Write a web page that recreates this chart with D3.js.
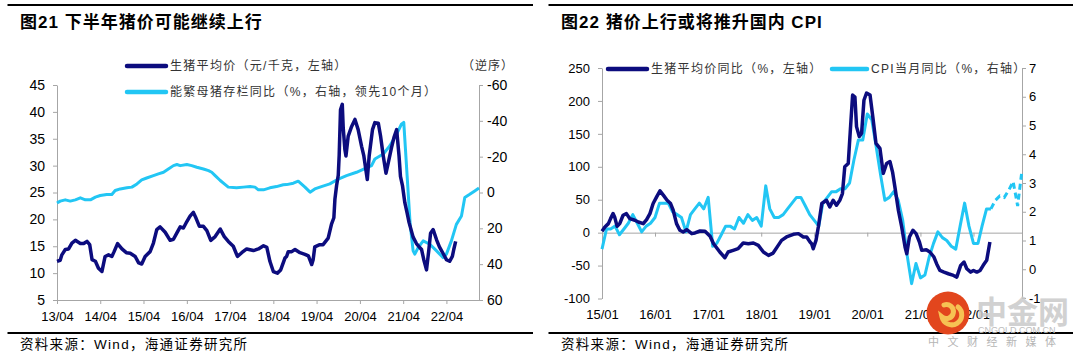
<!DOCTYPE html>
<html><head><meta charset="utf-8">
<script src="https://cdn.jsdelivr.net/npm/d3@7"></script>
<style>
body{margin:0;background:#fff;}
svg text{font-family:"Liberation Sans",Arial,"Noto Sans CJK SC",sans-serif;}
</style></head><body>
<svg id="c" width="1080" height="360"></svg>
<script>
// ---------- DATA ----------
// Left chart: hog average price (yuan/kg, left axis)
const hogPriceDates = ["2013-04-01","2013-04-28","2013-05-12","2013-06-10","2013-07-08","2013-08-05","2013-09-03","2013-10-15","2013-11-12","2013-12-10","2014-01-02","2014-01-22","2014-02-19","2014-03-17","2014-04-15","2014-05-12","2014-06-10","2014-07-08","2014-07-27","2014-08-25","2014-10-01","2014-11-07","2014-12-10","2015-01-21","2015-02-19","2015-03-17","2015-04-15","2015-05-27","2015-06-24","2015-07-22","2015-08-19","2015-10-01","2015-11-12","2015-12-10","2016-01-08","2016-02-05","2016-03-03","2016-04-01","2016-04-28","2016-05-26","2016-06-18","2016-07-16","2016-08-19","2016-09-17","2016-10-20","2016-11-26","2017-01-08","2017-02-11","2017-03-17","2017-04-28","2017-06-02","2017-07-08","2017-08-19","2017-10-15","2017-11-26","2018-01-08","2018-02-05","2018-03-03","2018-04-01","2018-05-05","2018-06-02","2018-07-08","2018-07-22","2018-08-05","2018-09-03","2018-10-01","2018-11-12","2018-12-24","2019-01-22","2019-02-19","2019-03-03","2019-03-17","2019-04-28","2019-05-26","2019-07-08","2019-08-05","2019-08-25","2019-09-03","2019-09-17","2019-10-01","2019-10-09","2019-10-20","2019-11-04","2019-11-12","2019-11-26","2019-12-05","2019-12-24","2020-01-22","2020-02-19","2020-03-17","2020-04-15","2020-05-04","2020-06-02","2020-06-18","2020-07-16","2020-08-05","2020-09-03","2020-09-22","2020-10-15","2020-11-07","2020-11-26","2020-12-24","2021-01-13","2021-02-05","2021-02-25","2021-03-09","2021-03-26","2021-04-15","2021-05-04","2021-05-21","2021-06-24","2021-07-22","2021-08-14","2021-09-03","2021-09-22","2021-10-15","2021-11-04","2021-11-18","2021-12-10","2022-01-08","2022-02-01","2022-03-03","2022-04-01","2022-04-28","2022-05-21","2022-06-02","2022-06-18"];
const hogPriceValues = [12.2,12.4,13.4,14.4,14.5,15.6,16.1,15.5,15.5,15.9,15.3,12.5,12.2,10.9,10.3,13.1,13.4,13.1,14.0,15.5,14.5,13.8,13.7,13.1,11.9,11.7,13.1,14.0,15.6,18.1,18.6,17.6,16.1,16.3,17.5,18.6,18.4,19.6,20.6,21.3,20.2,18.7,18.7,17.9,16.1,16.8,18.2,16.8,15.9,15.0,13.1,13.8,14.5,14.2,14.5,15.1,14.8,12.2,10.3,10.0,10.6,12.8,13.1,14.0,14.0,14.4,13.8,13.5,13.2,11.6,12.5,14.9,15.3,15.3,16.5,19.1,20.3,23.8,26.3,28.2,32.0,40.4,41.4,37.0,33.0,31.8,35.5,37.3,38.6,36.7,33.6,31.8,27.4,31.8,36.7,38.0,37.9,35.5,31.8,28.6,30.5,33.4,35.2,36.7,31.8,28.0,26.3,23.1,21.2,19.4,16.7,15.5,14.9,14.4,12.5,10.6,14.4,17.4,18.1,16.2,14.9,13.7,12.5,12.2,13.1,14.4,15.9];

// Left chart: breeding sow inventory YoY (%, right axis reversed, leading 10 months)
const sowDates = ["2013-04-01","2013-04-28","2013-06-10","2013-07-22","2013-09-03","2013-10-15","2013-11-26","2014-01-08","2014-02-19","2014-04-01","2014-05-26","2014-07-08","2014-08-05","2014-09-17","2014-11-12","2014-12-24","2015-02-05","2015-03-17","2015-04-28","2015-06-24","2015-08-05","2015-09-17","2015-10-28","2015-12-10","2016-01-08","2016-02-05","2016-04-01","2016-05-12","2016-06-24","2016-08-19","2016-10-01","2016-10-28","2016-11-26","2017-01-08","2017-02-19","2017-03-17","2017-05-26","2017-07-22","2017-09-17","2017-10-28","2017-11-26","2018-01-08","2018-03-03","2018-04-28","2018-06-24","2018-07-22","2018-09-17","2018-10-28","2018-12-24","2019-02-05","2019-03-17","2019-05-12","2019-07-22","2019-09-17","2019-12-10","2020-03-03","2020-05-26","2020-07-08","2020-08-05","2020-10-15","2020-12-10","2021-02-05","2021-03-17","2021-04-06","2021-05-30","2021-06-24","2021-07-08","2021-08-06","2021-09-17","2021-11-12","2022-01-08","2022-03-03","2022-04-01","2022-05-13","2022-06-24","2022-08-06","2022-09-03","2022-10-15","2022-11-26","2023-01-01"];
const sowValues = [5.9,4.8,4.1,4.8,4.1,3.0,4.1,4.1,2.6,1.7,1.1,1.1,-1.1,-2.0,-2.6,-3.0,-4.8,-7.0,-8.1,-9.4,-10.4,-11.3,-13.1,-15.0,-15.6,-15.0,-15.6,-15.0,-14.1,-13.1,-12.2,-11.3,-9.4,-6.7,-4.4,-3.0,-2.6,-3.0,-3.3,-3.0,-1.5,-1.5,-2.6,-3.3,-4.3,-4.4,-5.2,-6.3,-3.0,-0.2,-2.0,-3.3,-4.8,-7.0,-9.4,-11.3,-13.7,-15.0,-18.7,-21.5,-26.1,-32.6,-38.1,-39.1,17.8,32.6,34.4,30.7,27.0,28.9,32.6,36.3,34.4,27.0,17.8,13.1,2.8,1.0,-0.9,-2.5];

// Right chart: hog price YoY (%, left axis)
const hogYoyDates = ["2015-01-01","2015-01-21","2015-02-14","2015-03-01","2015-03-18","2015-03-29","2015-04-15","2015-05-03","2015-05-26","2015-06-18","2015-07-11","2015-08-15","2015-09-08","2015-10-12","2015-11-04","2015-11-27","2015-12-19","2016-01-12","2016-02-04","2016-02-27","2016-03-24","2016-04-17","2016-05-05","2016-05-28","2016-06-20","2016-07-13","2016-08-06","2016-09-10","2016-10-02","2016-11-06","2016-12-10","2017-01-14","2017-02-07","2017-03-22","2017-04-26","2017-05-18","2017-06-22","2017-07-26","2017-08-30","2017-10-04","2017-11-08","2017-12-12","2018-01-16","2018-02-20","2018-03-24","2018-04-28","2018-05-21","2018-06-24","2018-08-10","2018-09-14","2018-10-18","2018-11-10","2018-12-03","2018-12-14","2018-12-25","2019-01-13","2019-01-29","2019-02-22","2019-03-26","2019-04-18","2019-05-11","2019-06-03","2019-06-26","2019-07-14","2019-07-30","2019-08-23","2019-09-08","2019-09-22","2019-10-08","2019-10-19","2019-11-07","2019-11-23","2019-12-09","2019-12-27","2020-01-20","2020-02-08","2020-03-01","2020-03-28","2020-04-20","2020-05-13","2020-06-05","2020-06-23","2020-07-09","2020-08-02","2020-08-25","2020-09-17","2020-09-29","2020-10-17","2020-11-10","2020-12-02","2020-12-25","2021-01-10","2021-02-10","2021-03-07","2021-04-04","2021-04-22","2021-05-15","2021-06-12","2021-07-12","2021-08-16","2021-09-08","2021-10-05","2021-10-28","2021-11-16","2021-12-13","2022-01-01","2022-01-24","2022-02-16","2022-03-09","2022-04-02","2022-04-24"];
const hogYoyValues = [2,8.6,13.7,21.3,28.9,23.9,9.6,13.7,26.4,28.9,21.3,18.8,16.2,13.7,19.8,28.9,44.2,54.3,63.5,56.9,49.2,44.2,34.0,13.7,3.6,1.0,4.6,-1.5,-0.5,2.5,2.0,-5.6,-16.8,-29.4,-38.1,-29.4,-26.9,-24.4,-15.7,-16.8,-15.7,-19.3,-29.4,-34.5,-31.0,-19.3,-11.7,-6.6,-2.5,-1.5,-6.6,-6.6,-14.2,-16.8,-24.4,-11.7,8.6,44.2,49.2,39.1,49.2,41.6,49.2,59.4,100,105,161,209,206,161,146,151,201,212,209,176,135.5,128,90,105,108,92,69.5,34,8.6,-21.8,-32,-6.6,3.6,-1.5,-14.2,-26.9,-25.9,-29.4,-37,-47.2,-57.4,-59.9,-62.4,-65,-67.5,-49.7,-44.7,-54.8,-59.9,-57.4,-59.9,-57.4,-49.7,-42.1,-14.2];

// Right chart: CPI YoY (%, right axis), monthly from 2015-01; forecast (dashed) from 2022-05
const cpiStart = "2015-01-01";
const cpiValues = [0.7,1.4,1.4,1.5,1.2,1.4,1.6,1.9,1.6,1.3,1.5,1.6,
  1.8,2.3,2.3,2.3,2.0,1.9,1.8,1.3,1.9,2.1,2.3,2.1,
  2.5,0.8,0.9,1.2,1.5,1.5,1.4,1.8,1.6,1.9,1.7,1.8,
  1.5,2.9,2.1,1.8,1.8,1.9,2.1,2.3,2.5,2.5,2.2,1.9,
  1.7,1.5,2.3,2.5,2.7,2.7,2.8,2.8,3.0,3.8,4.5,4.5,
  5.4,5.2,4.3,3.3,2.4,2.5,2.7,2.4,1.7,0.5,-0.5,0.2,
  -0.3,-0.2,0.4,0.9,1.3,1.1,1.0,0.8,0.7,1.5,2.3,1.5,
  0.9,0.9,1.5,2.1,2.1];
const cpiForecastStart = "2022-05-01";
const cpiForecastValues = [2.1,2.4,2.55,2.5,2.75,3.05,2.2,3.45];

// Tick labels
const leftYTicks = [5,10,15,20,25,30,35,40,45];
const leftRTicks = [-60,-40,-20,0,20,40,60];
const leftXTicks = ["2013-04-01","2014-04-01","2015-04-01","2016-04-01","2017-04-01","2018-04-01","2019-04-01","2020-04-01","2021-04-01","2022-04-01"];
const rightYTicks = [-100,-50,0,50,100,150,200,250];
const rightRTicks = [-1,0,1,2,3,4,5,6,7];
const rightXTicks = ["2015-01-01","2016-01-01","2017-01-01","2018-01-01","2019-01-01","2020-01-01","2021-01-01","2022-01-01"];

// ---------- DRAW ----------
const P = d3.timeParse("%Y-%m-%d");
const svg = d3.select("#c");
const DARK = "#0c0c7e", LIGHT = "#22c6f4", AX = "#a6a6a6";
const fmtX = d3.timeFormat("%y/%m");
const CJK = '"Noto Sans CJK SC",sans-serif';

function styleAxis(g, fs){
  g.select(".domain").attr("stroke", AX);
  g.selectAll(".tick line").attr("stroke", AX);
  g.selectAll(".tick text").attr("fill","#000").style("font-size", fs+"px").style("font-family",'"Liberation Sans",Arial,sans-serif');
}
function rules(x0,x1){
  svg.append("line").attr("x1",x0).attr("x2",x1).attr("y1",5).attr("y2",5).attr("stroke","#000").attr("stroke-width",2);
  svg.append("line").attr("x1",x0).attr("x2",x1).attr("y1",333).attr("y2",333).attr("stroke","#000").attr("stroke-width",2);
}
function source(x){
  svg.append("text").attr("x",x).attr("y",349).style("font-size","13.5px").style("letter-spacing","1.3px").attr("fill","#000")
    .style("font-family",'"Liberation Sans","Noto Sans CJK SC",sans-serif').text("资料来源：Wind，海通证券研究所");
}

// ===== Left chart =====
rules(7.5,533);
svg.append("text").attr("x",20).attr("y",28).style("font-size","17px").style("font-weight","bold").style("letter-spacing","1px").attr("fill","#000")
  .style("font-family",'"Liberation Sans",Arial,"Noto Sans CJK SC",sans-serif').text("图21 下半年猪价可能继续上行");
source(20);

const x1 = d3.scaleTime().domain([P("2013-04-01"),P("2023-01-01")]).range([57,479]);
const y1 = d3.scaleLinear().domain([5,45]).range([300,85]);
const y1r = d3.scaleLinear().domain([-60,60]).range([85,300]);

svg.append("g").attr("transform","translate(57,0)").call(d3.axisLeft(y1).tickValues(leftYTicks).tickSize(4).tickPadding(8).tickSizeOuter(0)).call(g=>styleAxis(g,14));
svg.append("g").attr("transform","translate(479,0)").call(d3.axisRight(y1r).tickValues(leftRTicks).tickFormat(d=>String(d)).tickSize(4).tickPadding(4).tickSizeOuter(0)).call(g=>styleAxis(g,14));
svg.append("g").attr("transform","translate(0,300)").call(d3.axisBottom(x1).tickValues(leftXTicks.map(P)).tickFormat(fmtX).tickSize(4).tickPadding(8).tickSizeOuter(0)).call(g=>styleAxis(g,13));

const line1 = d3.line().x(d=>x1(P(d[0]))).y(d=>y1(d[1]));
const line1r = d3.line().x(d=>x1(P(d[0]))).y(d=>y1r(d[1]));
svg.append("path").datum(sowDates.map((d,i)=>[d,sowValues[i]])).attr("d",line1r).attr("fill","none").attr("stroke",LIGHT).attr("stroke-width",3).attr("stroke-linejoin","round");
svg.append("path").datum(hogPriceDates.map((d,i)=>[d,hogPriceValues[i]])).attr("d",line1).attr("fill","none").attr("stroke",DARK).attr("stroke-width",3.5).attr("stroke-linejoin","round");

// legend
function legendItem(xa, xb, y, color, label){
  svg.append("line").attr("x1",xa).attr("x2",xb).attr("y1",y).attr("y2",y).attr("stroke",color).attr("stroke-width",4.5).attr("stroke-linecap","round");
  svg.append("text").attr("x",xb+4).attr("y",y).attr("dy","0.35em").style("font-size","12px").style("letter-spacing","1.3px").attr("fill","#333")
    .style("font-family",'"Liberation Sans","Noto Sans CJK SC",sans-serif').text(label);
}
legendItem(127,166,66,DARK,"生猪平均价（元/千克，左轴）");
legendItem(127,166,92,LIGHT,"能繁母猪存栏同比（%，右轴，领先10个月）");
svg.append("text").attr("x",462).attr("y",66).attr("dy","0.35em").style("font-size","12px").style("letter-spacing","1px").attr("fill","#333")
  .style("font-family",CJK).text("（逆序）");

// ===== Right chart =====
rules(548.5,1073);
svg.append("text").attr("x",561).attr("y",28).style("font-size","17px").style("font-weight","bold").style("letter-spacing","1px").attr("fill","#000")
  .style("font-family",'"Liberation Sans",Arial,"Noto Sans CJK SC",sans-serif').text("图22 猪价上行或将推升国内 CPI");
source(561);

const x2 = d3.scaleTime().domain([P("2015-01-01"),P("2022-12-01")]).range([602,1022]);
const y2 = d3.scaleLinear().domain([-100,250]).range([298.5,68]);
const y2r = d3.scaleLinear().domain([-1,7]).range([298,68]);

svg.append("g").attr("transform","translate(602,0)").call(d3.axisLeft(y2).tickValues(rightYTicks).tickFormat(d=>String(d)).tickSize(4).tickPadding(8).tickSizeOuter(0)).call(g=>styleAxis(g,13));
svg.append("g").attr("transform","translate(1022,0)").call(d3.axisRight(y2r).tickValues(rightRTicks).tickFormat(d=>String(d)).tickSize(4).tickPadding(3).tickSizeOuter(0)).call(g=>styleAxis(g,13));
svg.append("g").attr("transform",`translate(0,${y2(0)})`).call(d3.axisBottom(x2).tickValues(rightXTicks.map(P)).tickFormat("").tickSize(4).tickSizeOuter(0)).call(g=>styleAxis(g,13));
svg.append("g").attr("transform","translate(0,298.5)").call(d3.axisBottom(x2).tickValues(rightXTicks.map(P)).tickFormat(fmtX).tickSize(0).tickPadding(11)).call(g=>{styleAxis(g,13); g.select(".domain").remove();});

const cpiDates = cpiValues.map((v,i)=>d3.timeMonth.offset(P(cpiStart),i));
const cpiFDates = cpiForecastValues.map((v,i)=>d3.timeMonth.offset(P(cpiForecastStart),i));
const line2r = d3.line().x(d=>x2(d[0])).y(d=>y2r(d[1]));
const line2 = d3.line().x(d=>x2(P(d[0]))).y(d=>y2(d[1]));
svg.append("path").datum(cpiDates.map((d,i)=>[d,cpiValues[i]])).attr("d",line2r).attr("fill","none").attr("stroke",LIGHT).attr("stroke-width",3).attr("stroke-linejoin","round");
svg.append("path").datum(cpiFDates.map((d,i)=>[d,cpiForecastValues[i]])).attr("d",line2r).attr("fill","none").attr("stroke",LIGHT).attr("stroke-width",3).attr("stroke-dasharray","6,4");
svg.append("path").datum(hogYoyDates.map((d,i)=>[d,hogYoyValues[i]])).attr("d",line2).attr("fill","none").attr("stroke",DARK).attr("stroke-width",3.5).attr("stroke-linejoin","round");

legendItem(608,647,69,DARK,"生猪平均价同比（%，左轴）");
legendItem(832,867,69,LIGHT,"CPI当月同比（%，右轴）");

// ===== Watermark =====
const wm = svg.append("g");
wm.append("circle").attr("cx",948).attr("cy",313).attr("r",21.5).attr("fill","#e2461d");
wm.append("path").attr("d","M944,305 a7,7 0 1,1 -2,12 a10,10 0 1,0 16,-10").attr("fill","none").attr("stroke","#f6c253").attr("stroke-width",5).attr("stroke-linecap","round");
wm.append("text").attr("x",976).attr("y",323).style("font-size","31px").style("font-family",CJK).style("font-weight","bold").attr("fill","#c9c9c9").attr("opacity",0.85).text("中金网");
wm.append("text").attr("x",978).attr("y",333).style("font-size","9px").attr("fill","#bdbdbd").text("CNGOLD.COM.CN");
wm.append("text").attr("x",928).attr("y",346).style("font-size","11px").style("letter-spacing","8.5px").style("font-family",CJK).attr("fill","#b5b5b5").text("中文财经新媒体");
</script>
</body></html>
